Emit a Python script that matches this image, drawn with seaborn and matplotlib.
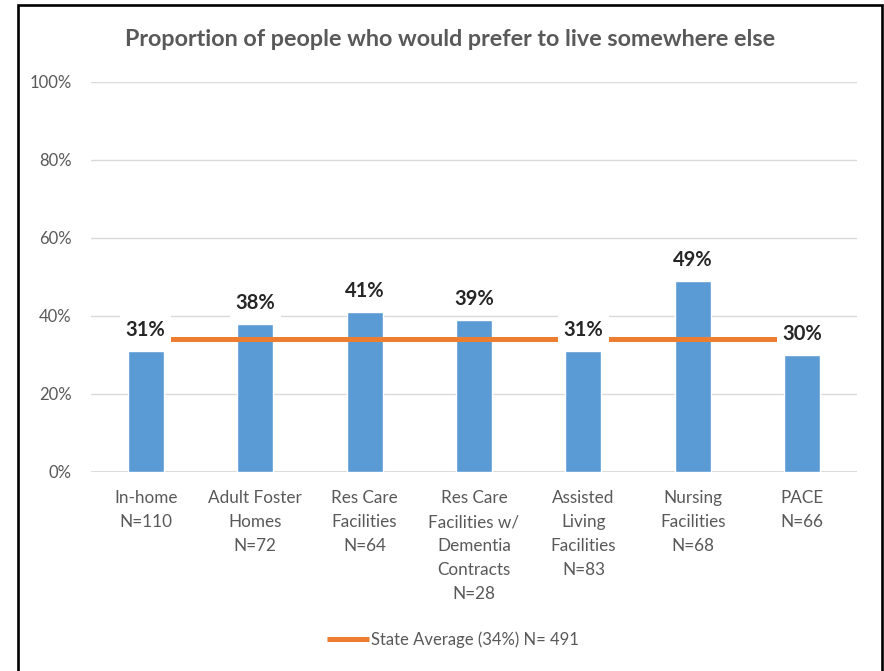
import matplotlib
matplotlib.use("Agg")
import matplotlib.pyplot as plt
from matplotlib.patches import Rectangle
from matplotlib.ticker import FixedLocator
import numpy as np
import pandas as pd
import seaborn as sns

# Settings, share (%) and respondent counts
categories = [
    "In-home\nN=110",
    "Adult Foster\nHomes\nN=72",
    "Res Care\nFacilities\nN=64",
    "Res Care\nFacilities w/\nDementia\nContracts\nN=28",
    "Assisted\nLiving\nFacilities\nN=83",
    "Nursing\nFacilities\nN=68",
    "PACE\nN=66",
]
values = [31, 38, 41, 39, 31, 49, 30]
state_avg = 34
legend_label = "State Average (34%) N= 491"
title = "Proportion of people who would prefer to live somewhere else"
y_ticks = [0, 20, 40, 60, 80, 100]

BLUE = "#5B9BD5"
ORANGE = "#ED7D31"
GREY_TEXT = "#595959"
GRID = "#D9D9D9"

sns.set_theme(style="white")
plt.rcParams["font.family"] = ["Lato", "DejaVu Sans"]

df = pd.DataFrame({"category": categories, "value": values})

fig = plt.figure(figsize=(8.84, 6.71), dpi=100)
ax = fig.add_axes([91 / 884, 1 - 472 / 671, (857 - 91) / 884, (472 - 82) / 671])

sns.barplot(data=df, x="category", y="value", color=BLUE, width=0.33,
            saturation=1, ax=ax, zorder=2)

# state average reference line across category centres
ax.plot([0, len(categories) - 1], [state_avg, state_avg], color=ORANGE,
        lw=3.6, solid_capstyle="butt", zorder=3, label=legend_label)

# value labels on white boxes above each bar
for i, v in enumerate(values):
    ax.annotate(f"{v}%", xy=(i, v), xytext=(0, 15), textcoords="offset points",
                ha="center", va="center", fontsize=14.5, fontweight="bold",
                color="#262626", zorder=6,
                bbox=dict(boxstyle="square,pad=0.28", fc="white", ec="none"))

ax.set_ylim(0, 100)
ax.set_xlim(-0.5, len(categories) - 0.5)
ax.yaxis.set_major_locator(FixedLocator(y_ticks))
ax.set_yticklabels([f"{t}%" for t in y_ticks])
ax.set_axisbelow(True)
ax.grid(axis="y", color=GRID, lw=1.0)
ax.grid(axis="x", visible=False)
for s in ax.spines.values():
    s.set_visible(False)
ax.axhline(0, color=GRID, lw=1.3, zorder=1)

ax.set_xlabel("")
ax.set_ylabel("")
ax.tick_params(axis="y", length=0, pad=14, labelsize=12, labelcolor=GREY_TEXT)
ax.tick_params(axis="x", length=0, pad=13, labelsize=12.3, labelcolor=GREY_TEXT)
for lab in ax.get_xticklabels():
    lab.set_linespacing(1.62)
    lab.set_ha("center")

fig.text(450 / 884, 1 - 40 / 671, title, ha="center", va="center",
         fontsize=16.8, fontweight="bold", color=GREY_TEXT)

leg = ax.legend(loc="center", bbox_to_anchor=(453 / 884, 1 - 640 / 671),
                bbox_transform=fig.transFigure, frameon=False, fontsize=12,
                handlelength=2.5, handletextpad=0.1)
for t in leg.get_texts():
    t.set_color(GREY_TEXT)

# outer frame
fig.patches.append(Rectangle((17.5 / 884, -0.02), (881.5 - 17.5) / 884,
                             (671 - 5) / 671 + 0.02, transform=fig.transFigure,
                             fill=False, ec="black", lw=1.9, zorder=10))

fig.savefig("out.png", dpi=100, facecolor="white")
